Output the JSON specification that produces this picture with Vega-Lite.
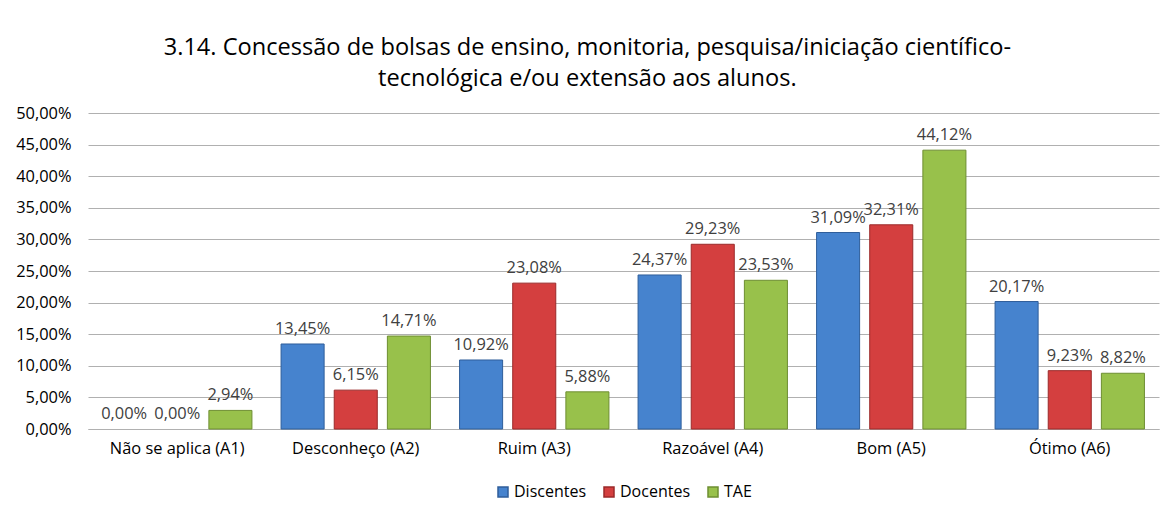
{
  "$schema": "https://vega.github.io/schema/vega-lite/v6.json",
  "width": 1169,
  "height": 510,
  "autosize": {"type": "fit", "contains": "padding"},
  "padding": {"left": 15, "right": 10, "top": 36, "bottom": 10},
  "background": "white",
  "config": {
    "locale": {"number": {"decimal": ",", "thousands": ".", "grouping": [3], "currency": ["R$", ""]}},
    "font": "Open Sans",
    "view": {"stroke": null},
    "legend": {"layout": {"bottom": {"anchor": "middle"}}}
  },
  "title": {
    "text": ["3.14. Concessão de bolsas de ensino, monitoria, pesquisa/iniciação científico-", "tecnológica e/ou extensão aos alunos."],
    "fontSize": 23.6,
    "fontWeight": "normal",
    "color": "#000000",
    "font": "Open Sans",
    "frame": "bounds",
    "anchor": "middle",
    "lineHeight": 31,
    "offset": 14
  },
  "data": {
    "values": [
      {"cat": "Não se aplica (A1)", "serie": "Discentes", "v": 0},
      {"cat": "Não se aplica (A1)", "serie": "Docentes", "v": 0},
      {"cat": "Não se aplica (A1)", "serie": "TAE", "v": 0.0294},
      {"cat": "Desconheço (A2)", "serie": "Discentes", "v": 0.1345},
      {"cat": "Desconheço (A2)", "serie": "Docentes", "v": 0.0615},
      {"cat": "Desconheço (A2)", "serie": "TAE", "v": 0.1471},
      {"cat": "Ruim (A3)", "serie": "Discentes", "v": 0.1092},
      {"cat": "Ruim (A3)", "serie": "Docentes", "v": 0.2308},
      {"cat": "Ruim (A3)", "serie": "TAE", "v": 0.0588},
      {"cat": "Razoável (A4)", "serie": "Discentes", "v": 0.2437},
      {"cat": "Razoável (A4)", "serie": "Docentes", "v": 0.2923},
      {"cat": "Razoável (A4)", "serie": "TAE", "v": 0.2353},
      {"cat": "Bom (A5)", "serie": "Discentes", "v": 0.3109},
      {"cat": "Bom (A5)", "serie": "Docentes", "v": 0.3231},
      {"cat": "Bom (A5)", "serie": "TAE", "v": 0.4412},
      {"cat": "Ótimo (A6)", "serie": "Discentes", "v": 0.2017},
      {"cat": "Ótimo (A6)", "serie": "Docentes", "v": 0.0923},
      {"cat": "Ótimo (A6)", "serie": "TAE", "v": 0.0882}
    ]
  },
  "encoding": {
    "x": {
      "field": "cat",
      "type": "nominal",
      "sort": null,
      "scale": {"paddingInner": 0, "paddingOuter": 0},
      "axis": {
        "title": null,
        "labelAngle": 0,
        "labelFontSize": 16.4,
        "labelColor": "#000000",
        "labelPadding": 11,
        "ticks": false,
        "domainColor": "#B0B0B0",
        "grid": false
      }
    },
    "xOffset": {
      "field": "serie",
      "type": "nominal",
      "scale": {"paddingInner": 0.19, "paddingOuter": 0.274}
    },
    "y": {
      "field": "v",
      "type": "quantitative",
      "scale": {"domain": [0, 0.5], "nice": false},
      "axis": {
        "title": null,
        "format": ".2%",
        "values": [0, 0.05, 0.1, 0.15, 0.2, 0.25, 0.3, 0.35, 0.4, 0.45, 0.5],
        "labelFontSize": 16.4,
        "labelColor": "#000000",
        "labelPadding": 17,
        "ticks": false,
        "domain": false,
        "gridColor": "#B0B0B0"
      }
    }
  },
  "layer": [
    {
      "transform": [{"filter": "datum.v > 0"}],
      "mark": {"type": "bar", "strokeWidth": 1},
      "encoding": {
        "color": {
          "field": "serie",
          "type": "nominal",
          "scale": {"domain": ["Discentes", "Docentes", "TAE"], "range": ["#4683CE", "#D43F3F", "#98C14B"]},
          "legend": {
            "title": null,
            "orient": "bottom",
            "direction": "horizontal",
            "symbolType": "square",
            "symbolSize": 100,
            "labelFontSize": 16,
            "labelColor": "#000000",
            "columnPadding": 14,
            "labelOffset": 3,
            "offset": 27
          }
        },
        "stroke": {
          "field": "serie",
          "type": "nominal",
          "scale": {"domain": ["Discentes", "Docentes", "TAE"], "range": ["#2F5E9A", "#9A2A2A", "#6E8E32"]},
          "legend": null
        }
      }
    },
    {
      "mark": {"type": "text", "dy": -15, "fontSize": 16.4, "color": "#404040"},
      "encoding": {
        "text": {"field": "v", "type": "quantitative", "format": ".2%"}
      }
    }
  ]
}
